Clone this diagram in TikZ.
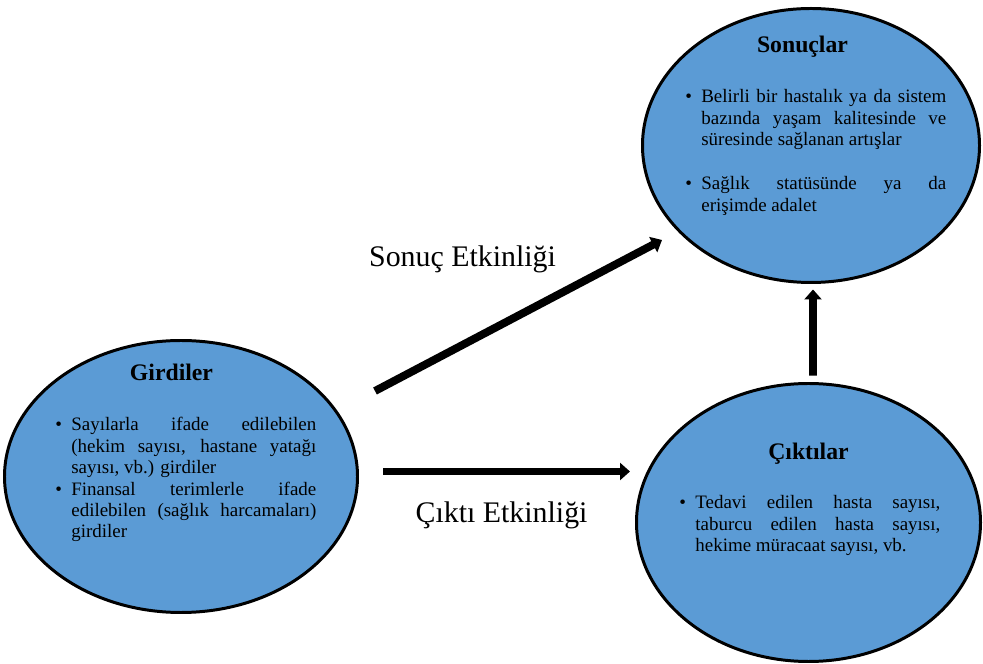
\documentclass[tikz,border=0pt]{standalone}
\usepackage{fontspec}
\setmainfont{Liberation Serif}
\usepackage{tikz}
\usetikzlibrary{shapes,arrows.meta,positioning}
\definecolor{ovalblue}{HTML}{5B9BD5}
% bullet line with hanging indent
\newcommand{\bitem}{\par\hyphenpenalty=10000\relax\noindent\hangindent=0.32cm\hangafter=1\makebox[0.32cm][l]{\textbullet}}
\tikzset{
    %Define style for ellipses
    oval/.style={
           ellipse,
           draw=black,
           line width=1.7pt,
           fill=ovalblue,
           inner sep=0pt},
    %Define style for titles
    head/.style={
           anchor=base,
           inner sep=0pt,
           font=\fontsize{13.5}{16}\selectfont\bfseries},
    %Define style for bullet texts
    body/.style={
           anchor=north west,
           inner sep=0pt,
           text width=5.22cm,
           align=justify,
           font=\fontsize{10.8}{12.2}\selectfont},
    % Define arrow style
    arrow/.style={
           -{Triangle[length=0.2cm,width=0.34cm]},
           line width=4.5pt},
    % Define style for arrow labels
    lbl/.style={
           anchor=base,
           inner sep=0pt,
           font=\fontsize{17}{20}\selectfont}
}
\begin{document}
\begin{tikzpicture}
    \useasboundingbox (0,0) rectangle (19.66,13.28);
    \node [oval, minimum width=6.74cm, minimum height=5.48cm] (sonuc) at (16.22,10.37) {};
    \node [oval, minimum width=7.06cm, minimum height=5.44cm] (girdi) at (3.62,3.75) {};
    \node [oval, minimum width=6.88cm, minimum height=5.56cm] (cikti) at (16.17,2.83) {};

    \node [head] (sonuchead) at ([shift={(-0.17,1.86)}]sonuc.center) {Sonuçlar};
    \node [head] (girdihead) at ([shift={(-0.19,1.92)}]girdi.center) {Girdiler};
    \node [head] (ciktihead) at ([shift={(0,1.26)}]cikti.center) {Çıktılar};

    \node [body] (sonucbody) at ([shift={(-2.52,1.29)}]sonuc.center) {%
        \bitem Belirli bir hastalık ya da sistem\linebreak bazında yaşam kalitesinde ve\linebreak süresinde sağlanan artışlar
        \par\vspace{0.45cm}
        \bitem Sağlık statüsünde ya da\linebreak erişimde adalet\par};
    \node [body] (girdibody) at ([shift={(-2.52,1.35)}]girdi.center) {%
        \bitem Sayılarla ifade edilebilen\linebreak (hekim sayısı, hastane yatağı\linebreak sayısı, vb.) girdiler
        \bitem Finansal terimlerle ifade\linebreak edilebilen (sağlık harcamaları)\linebreak girdiler\par};
    \node [body] (ciktibody) at ([shift={(-2.59,0.71)}]cikti.center) {%
        \bitem Tedavi edilen hasta sayısı,\linebreak taburcu edilen hasta sayısı,\linebreak hekime müracaat sayısı, vb.\par};

    \coordinate (sonucfrom) at (7.5,5.46);
    \coordinate (sonucto) at (13.24,8.48);
    \coordinate (ciktifrom) at (7.66,3.85);
    \coordinate (ciktito) at (12.6,3.85);

    \node [lbl] (sonuclbl) at (9.25,7.94) {Sonuç Etkinliği};
    \draw [arrow] (sonucfrom) -- (sonucto);
    \draw [arrow] (ciktifrom) -- node[lbl, pos=0.48, below=0.52cm] (ciktilbl) {Çıktı Etkinliği} (ciktito);
    \draw [arrow, shorten <=0.13cm, shorten >=0.11cm] ([xshift=0.09cm]cikti.north) -- ([xshift=0.04cm]sonuc.south);
\end{tikzpicture}
\end{document}
